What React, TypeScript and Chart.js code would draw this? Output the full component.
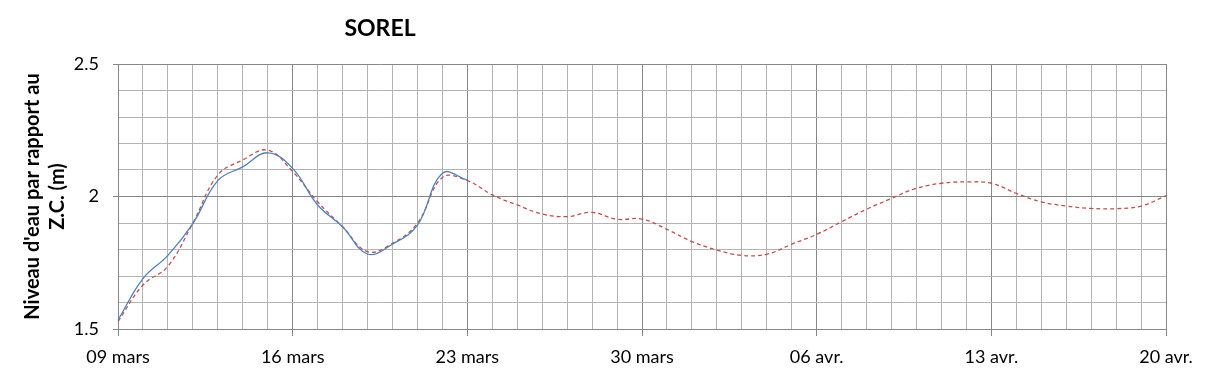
import { useEffect, useRef } from 'react';
import { Chart, registerables } from 'chart.js';

Chart.register(...registerables);

const TITLE = 'SOREL';
const Y_TITLE = ["Niveau d'eau par rapport au", 'Z.C. (m)'];

const DATES = [
  '09 mars', '10 mars', '11 mars', '12 mars', '13 mars', '14 mars', '15 mars',
  '16 mars', '17 mars', '18 mars', '19 mars', '20 mars', '21 mars', '22 mars',
  '23 mars', '24 mars', '25 mars', '26 mars', '27 mars', '28 mars', '29 mars',
  '30 mars', '31 mars', '01 avr.', '02 avr.', '03 avr.', '04 avr.', '05 avr.',
  '06 avr.', '07 avr.', '08 avr.', '09 avr.', '10 avr.', '11 avr.', '12 avr.',
  '13 avr.', '14 avr.', '15 avr.', '16 avr.', '17 avr.', '18 avr.', '19 avr.',
  '20 avr.',
];

const OBSERVED = [
  1.534, 1.69, 1.778, 1.898, 2.06, 2.112, 2.165, 2.106, 1.968, 1.886, 1.783,
  1.82, 1.892, 2.088, 2.062,
];

const FORECAST = [
  1.528, 1.666, 1.737, 1.9, 2.081, 2.138, 2.175, 2.094, 1.98, 1.886, 1.792,
  1.823, 1.899, 2.072, 2.06, 2.006, 1.968, 1.934, 1.924, 1.94, 1.914,
  1.915, 1.876, 1.83, 1.798, 1.778, 1.782, 1.82, 1.857, 1.905, 1.952,
  1.993, 2.031, 2.05, 2.055, 2.05, 2.012, 1.98, 1.964, 1.955, 1.954,
  1.964, 2.003,
];

const Y_MIN = 1.5;
const Y_MAX = 2.5;
const Y_STEP = 0.1;
const MAJOR_EVERY_DAYS = 7;

const FONT = 'Lato, "Open Sans", sans-serif';
const MAJOR = '#878787';
const MINOR = '#b4b4b4';

const isHalf = (v: number) => Math.abs(v * 2 - Math.round(v * 2)) < 1e-6;

const titlePlugin = {
  id: 'leftTitle',
  afterDraw(chart: any) {
    const { ctx, chartArea } = chart;
    ctx.save();
    ctx.font = `bold 23px ${FONT}`;
    ctx.fillStyle = '#000';
    ctx.textAlign = 'center';
    ctx.textBaseline = 'middle';
    ctx.fillText(TITLE, chartArea.left + 0.25 * (chartArea.right - chartArea.left), 29);
    ctx.restore();
  },
};

export default function App() {
  const ref = useRef<HTMLCanvasElement | null>(null);

  useEffect(() => {
    document.body.style.margin = '0';
    const canvas = ref.current;
    if (!canvas) return;
    const chart = new Chart(canvas, {
      type: 'line',
      data: {
        labels: DATES,
        datasets: [
          {
            label: 'Observé',
            data: [...OBSERVED, ...new Array(DATES.length - OBSERVED.length).fill(null)],
            borderColor: '#4F81BD',
            borderWidth: 1.3,
            pointRadius: 0,
            tension: 0.4,
            fill: false,
          },
          {
            label: 'Prévision',
            data: FORECAST,
            borderColor: '#C0504D',
            borderWidth: 1.3,
            borderDash: [4, 3],
            pointRadius: 0,
            tension: 0.4,
            fill: false,
          },
        ],
      },
      options: {
        responsive: false,
        animation: false,
        devicePixelRatio: 1,
        layout: { padding: { top: 64, right: 43, bottom: 0, left: 0 } },
        plugins: {
          legend: { display: false },
          title: { display: false },
          tooltip: { enabled: false },
        },
        scales: {
          x: {
            type: 'category',
            offset: false,
            grid: {
              color: (c: any) => (c.index % MAJOR_EVERY_DAYS === 0 ? MAJOR : MINOR),
              tickColor: (c: any) => (c.index % MAJOR_EVERY_DAYS === 0 ? MAJOR : 'rgba(0,0,0,0)'),
              tickLength: 7,
              lineWidth: 1,
            },
            border: { color: MAJOR },
            ticks: {
              autoSkip: false,
              maxRotation: 0,
              minRotation: 0,
              padding: 10,
              color: '#000',
              font: { family: FONT, size: 18 },
              callback: (_v: any, i: number) => (i % MAJOR_EVERY_DAYS === 0 ? DATES[i] : ''),
            },
            afterFit: (s: any) => {
              s.height = 49;
            },
          },
          y: {
            min: Y_MIN,
            max: Y_MAX,
            grid: {
              color: (c: any) => (c.tick && isHalf(c.tick.value) ? MAJOR : MINOR),
              tickColor: (c: any) => (c.tick && isHalf(c.tick.value) ? MAJOR : 'rgba(0,0,0,0)'),
              tickLength: 5,
              lineWidth: 1,
            },
            border: { color: MAJOR },
            ticks: {
              stepSize: Y_STEP,
              padding: 14,
              color: '#000',
              font: { family: FONT, size: 18 },
              callback: (v: any) => (isHalf(Number(v)) ? String(Math.round(Number(v) * 10) / 10) : ''),
            },
            title: {
              display: true,
              text: Y_TITLE,
              color: '#000',
              font: { family: FONT, size: 20, weight: 'bold', lineHeight: 1.25 },
              padding: { top: 20, bottom: 0 },
            },
            afterFit: (s: any) => {
              s.width = 118;
            },
          },
        },
      },
      plugins: [titlePlugin],
    } as any);
    return () => chart.destroy();
  }, []);

  return <canvas ref={ref} width={1209} height={378} style={{ display: 'block' }} />;
}
